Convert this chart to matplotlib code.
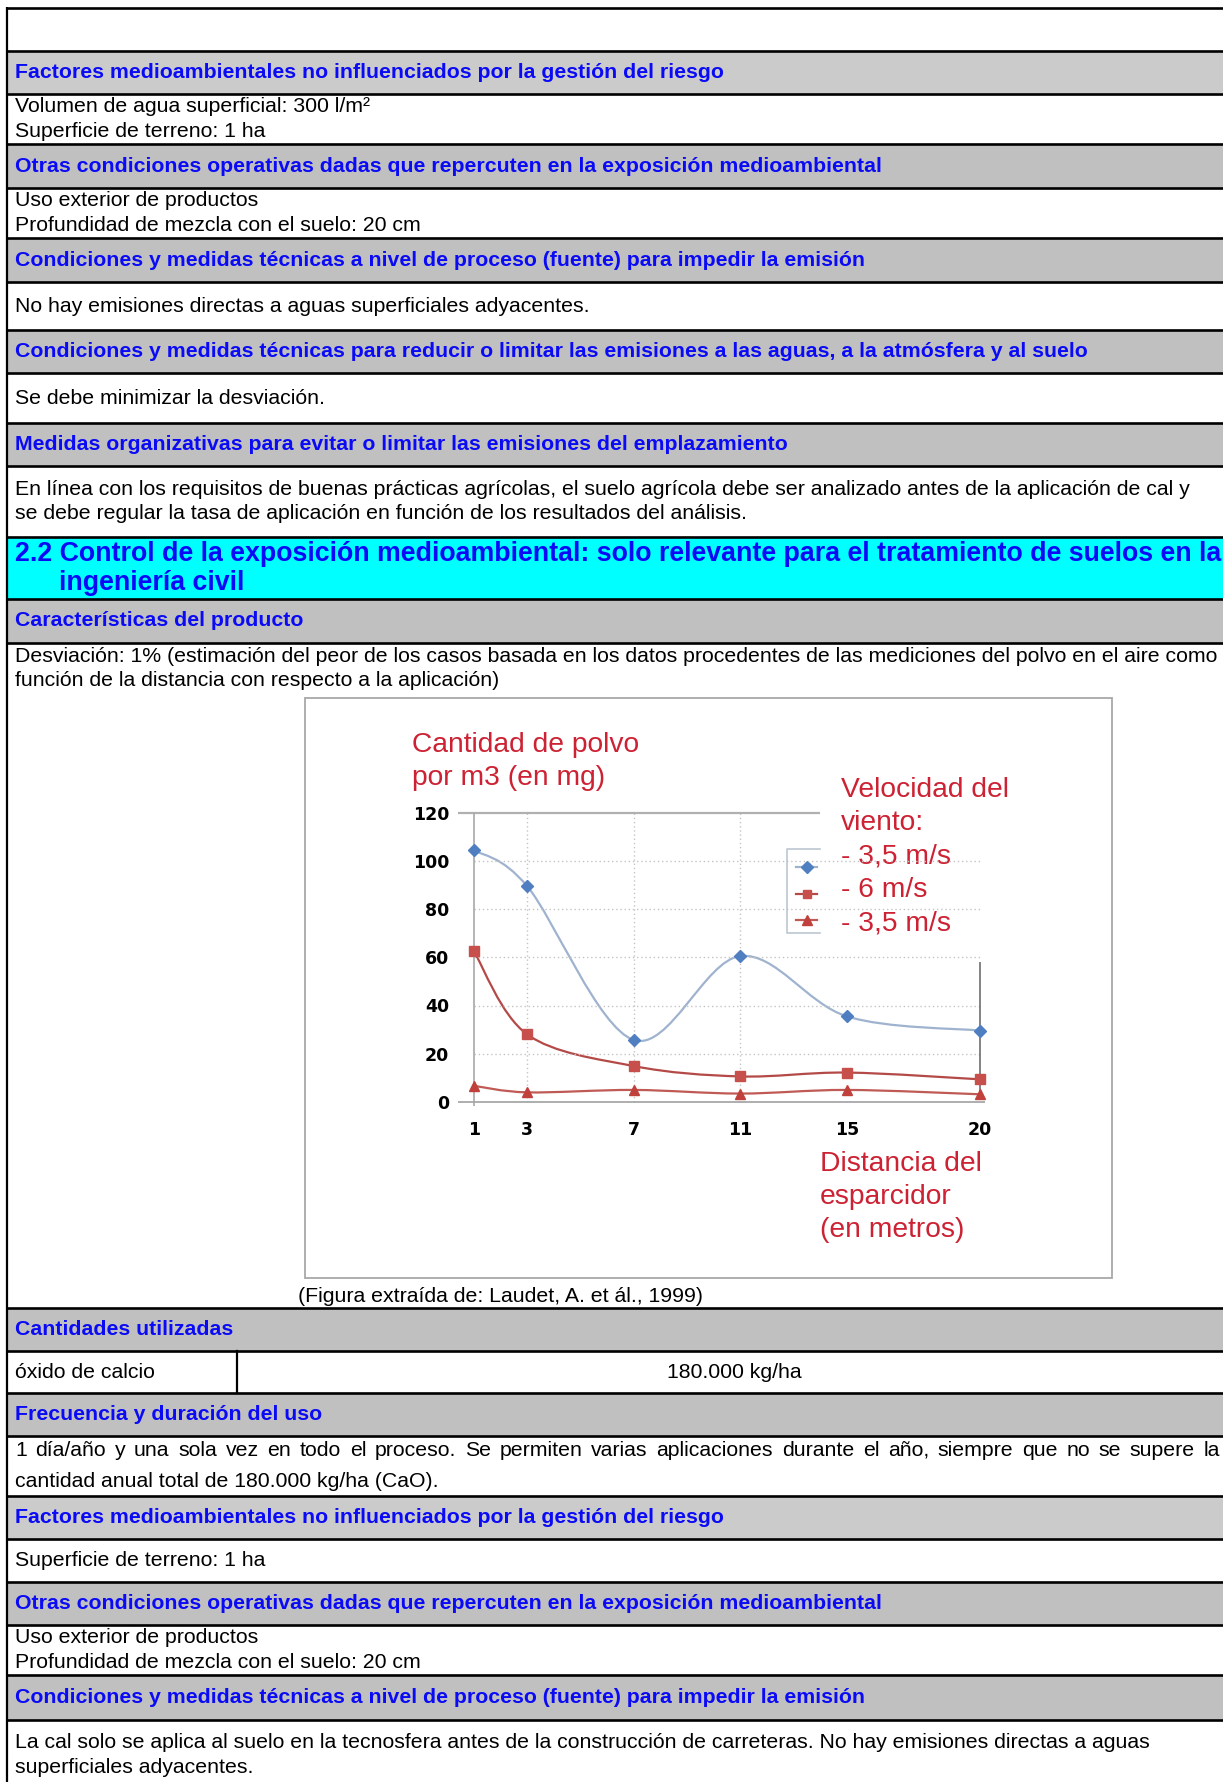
import matplotlib
matplotlib.use('Agg')
import matplotlib.pyplot as plt
from matplotlib.path import Path
from matplotlib.patches import PathPatch, Rectangle
import numpy as np

plt.rcParams['font.family'] = ['Liberation Sans', 'DejaVu Sans']

# --- chart data ---
distance = [1, 3, 7, 11, 15, 20]
dust_blue = [104.4, 89.4, 25.7, 60.5, 35.5, 29.6]
dust_red = [62.4, 28.0, 14.9, 10.6, 12.2, 9.4]
dust_tri = [6.7, 4.0, 5.0, 3.5, 5.0, 3.2]
series_labels = ['- 3,5 m/s', '- 6 m/s', '- 3,5 m/s']
y_ticks = [0, 20, 40, 60, 80, 100, 120]
err_range = [2, 58]
y_title = ['Cantidad de polvo', 'por m3 (en mg)']
legend_title = ['Velocidad del', 'viento:']
x_title = ['Distancia del', 'esparcidor', '(en metros)']

# --- table texts ---
h_factores = 'Factores medioambientales no influenciados por la gestión del riesgo'
h_otras = 'Otras condiciones operativas dadas que repercuten en la exposición medioambiental'
h_impedir = 'Condiciones y medidas técnicas a nivel de proceso (fuente) para impedir la emisión'
h_reducir = ('Condiciones y medidas técnicas para reducir o limitar las emisiones a las aguas, '
             'a la atmósfera y al suelo')
h_medidas = 'Medidas organizativas para evitar o limitar las emisiones del emplazamiento'
h_caract = 'Características del producto'
h_cantidades = 'Cantidades utilizadas'
h_frecuencia = 'Frecuencia y duración del uso'
cyan_lines = ['2.2 Control de la exposición medioambiental: solo relevante para el tratamiento de suelos en la',
              'ingeniería civil']
t_volumen = ['Volumen de agua superficial: 300 l/m²', 'Superficie de terreno: 1 ha']
t_uso = ['Uso exterior de productos', 'Profundidad de mezcla con el suelo: 20 cm']
t_noemis = ['No hay emisiones directas a aguas superficiales adyacentes.']
t_desv = ['Se debe minimizar la desviación.']
t_linea = ['En línea con los requisitos de buenas prácticas agrícolas, el suelo agrícola debe ser '
           'analizado antes de la aplicación de cal y',
           'se debe regular la tasa de aplicación en función de los resultados del análisis.']
t_desviacion = ['Desviación: 1% (estimación del peor de los casos basada en los datos procedentes de las '
                'mediciones del polvo en el aire como',
                'función de la distancia con respecto a la aplicación)']
caption = '(Figura extraída de: Laudet, A. et ál., 1999)'
sustancia = 'óxido de calcio'
cantidad = '180.000 kg/ha'
t_frec = ['1 día/año y una sola vez en todo el proceso. Se permiten varias aplicaciones durante el año, '
          'siempre que no se supere la',
          'cantidad anual total de 180.000 kg/ha (CaO).']
t_superficie = ['Superficie de terreno: 1 ha']
t_cal = ['La cal solo se aplica al suelo en la tecnosfera antes de la construcción de carreteras. '
         'No hay emisiones directas a aguas',
         'superficiales adyacentes.']

W, H = 1223, 1782
FS = 15.35
BLUE = '#0a0af5'
RED = '#cc2233'

fig = plt.figure(figsize=(W / 100, H / 100), dpi=100)
ax = fig.add_axes([0, 0, 1, 1])
ax.set_xlim(0, W)
ax.set_ylim(H, 0)
ax.axis('off')

# row layout: (kind, top, bottom, content)
rows = [
    ('blank', 8, 51, None),
    ('head', 51, 94, h_factores),
    ('body', 94, 144, t_volumen),
    ('head', 144, 188, h_otras),
    ('body', 188, 238, t_uso),
    ('head', 238, 282, h_impedir),
    ('body', 282, 330, t_noemis),
    ('head', 330, 373, h_reducir),
    ('body', 373, 423, t_desv),
    ('head', 423, 466, h_medidas),
    ('body', 466, 537, t_linea),
    ('cyan', 537, 599, cyan_lines),
    ('head', 599, 643, h_caract),
    ('chart', 643, 1308, None),
    ('head', 1308, 1351, h_cantidades),
    ('split', 1351, 1393, None),
    ('head', 1393, 1436, h_frecuencia),
    ('just', 1436, 1496, t_frec),
    ('head', 1496, 1539, h_factores),
    ('body', 1539, 1582, t_superficie),
    ('head', 1582, 1625, h_otras),
    ('body', 1625, 1675, t_uso),
    ('head', 1675, 1720, h_impedir),
    ('body', 1720, 1790, t_cal),
]

renderer = fig.canvas.get_renderer()


def justified(text, x0, x1, y):
    words = text.split()
    objs = [ax.text(0, y, w, fontsize=FS, va='center', ha='left') for w in words]
    widths = [o.get_window_extent(renderer).width for o in objs]
    gap = (x1 - x0 - sum(widths)) / (len(words) - 1)
    x = x0
    for o, w in zip(objs, widths):
        o.set_x(x)
        x += w + gap


for kind, top, bot, content in rows:
    mid = (top + bot) / 2
    if kind == 'head':
        grey = '#cbcbcb' if content == h_factores else '#c0c0c0'
        ax.add_patch(Rectangle((7, top), W, bot - top, facecolor=grey, edgecolor='none'))
        ax.text(15, mid, content, fontsize=FS, fontweight='bold', color=BLUE, va='center')
    elif kind == 'cyan':
        ax.add_patch(Rectangle((7, top), W, bot - top, facecolor='#00ffff', edgecolor='none'))
        ax.text(15, mid - 14, content[0], fontsize=19.25, fontweight='bold', color=BLUE, va='center')
        ax.text(59, mid + 15, content[1], fontsize=19.25, fontweight='bold', color=BLUE, va='center')
    elif kind == 'body':
        n = len(content)
        for i, line in enumerate(content):
            ax.text(15, mid + (i - (n - 1) / 2) * 24.5, line, fontsize=FS, va='center')
    elif kind == 'just':
        justified(content[0], 15, 1220, mid - 15.5)
        ax.text(15, mid + 15.5, content[1], fontsize=FS, va='center')
    elif kind == 'split':
        ax.text(15, mid, sustancia, fontsize=FS, va='center')
        ax.text(734, mid, cantidad, fontsize=FS, va='center', ha='center')
        ax.plot([236.5, 236.5], [top, bot], color='black', lw=1.6)
    elif kind == 'chart':
        ax.text(15, top + 14, t_desviacion[0], fontsize=FS, va='center')
        ax.text(15, top + 38, t_desviacion[1], fontsize=FS, va='center')
        ax.text(298, 1296, caption, fontsize=FS, va='center')

# table rules
for kind, top, bot, content in rows:
    ax.plot([6, W], [top, top], color='black', lw=1.9, solid_capstyle='butt')
ax.plot([7, 7], [7, H], color='black', lw=1.6, solid_capstyle='butt')

# embedded figure frame
ax.add_patch(Rectangle((305, 698), 807, 580, facecolor='white', edgecolor='#a8a8a8', lw=1.3))

# red annotations of the embedded figure (pixel positions)
for i, line in enumerate(y_title):
    ax.text(412, 745 + i * 33, line, fontsize=20.3, color=RED, va='center')
for i, line in enumerate(legend_title + series_labels):
    ax.text(841, 790 + i * 33.3, line, fontsize=20.3, color=RED, va='center')
for i, line in enumerate(x_title):
    ax.text(820, 1164 + i * 33, line, fontsize=20.3, color=RED, va='center')

# --- chart axes ---
x_lo, x_hi, y_lo, y_hi = -1, 23, -10, 130
px_x = (980 - 474) / (20 - 1)
px_y = (1102 - 812.5) / 120
left = 474 - (1 - x_lo) * px_x
right = 980 + (x_hi - 20) * px_x
bottom = 1102 + (0 - y_lo) * px_y
top = 812.5 - (y_hi - 120) * px_y
ax2 = fig.add_axes([left / W, 1 - bottom / H, (right - left) / W, (bottom - top) / H])
ax2.set_facecolor('none')
ax2.set_xlim(x_lo, x_hi)
ax2.set_ylim(y_lo, y_hi)
for s in ax2.spines.values():
    s.set_visible(False)
ax2.spines['left'].set_position(('data', 1))
ax2.spines['bottom'].set_position(('data', 0))
ax2.set_xticks(distance)
ax2.set_yticks(y_ticks)
ax2.tick_params(length=0)
ax2.tick_params(axis='y', pad=18)
ax2.tick_params(axis='x', pad=14)
for lab in ax2.get_xticklabels() + ax2.get_yticklabels():
    lab.set_family('DejaVu Sans')
    lab.set_fontweight('bold')
    lab.set_fontsize(12.5)

# grid
ax2.hlines(y_ticks[1:-1], 1, 20, colors='#c4c4c4', linestyles=(0, (1, 2)), lw=1)
ax2.vlines([3, 7, 11], 0, 120, colors='#c4c4c4', linestyles=(0, (1, 2)), lw=1)
ax2.hlines(120, 0.4, 14, colors='#b0b0b0', lw=1.6)
ax2.hlines(0, 0.4, 20.2, colors='#a8a8a8', lw=1.3)
ax2.vlines(1, -1.5, 120, colors='#a8a8a8', lw=1.2)
ax2.vlines(20, err_range[0], err_range[1], colors='#6e6e6e', lw=1.2)


def smooth_path(xs, ys):
    pts = np.column_stack([xs, ys]).astype(float)
    ext = np.vstack([pts[0], pts, pts[-1]])
    verts = [pts[0]]
    codes = [Path.MOVETO]
    for i in range(len(pts) - 1):
        p0, p1, p2, p3 = ext[i], ext[i + 1], ext[i + 2], ext[i + 3]
        verts += [p1 + (p2 - p0) / 6, p2 - (p3 - p1) / 6, p2]
        codes += [Path.CURVE4] * 3
    return Path(verts, codes)


styles = [
    (dust_blue, '#9fb3cf', '#4f7fc0', 'D', 6.5),
    (dust_red, '#b44a48', '#c8504c', 's', 6.5),
    (dust_tri, '#c05a55', '#c0403c', '^', 7.5),
]
for vals, lc, mc, mk, ms in styles:
    ax2.add_patch(PathPatch(smooth_path(distance, vals), fill=False, edgecolor=lc, lw=1.6))
    ax2.plot(distance, vals, linestyle='none', marker=mk, ms=ms, color=mc, mec=mc)

# legend keys (pixel positions in main axes)
for i, (vals, lc, mc, mk, ms) in enumerate(styles):
    y = [867, 894, 920][i]
    ax.plot([796, 817], [y, y], color=lc, lw=1.6)
    ax.plot([806.5], [y], marker=mk, ms=ms - 0.5, color=mc, linestyle='none')
ax.plot([820, 787, 787, 820], [849, 849, 933, 933], color='#bcc6d2', lw=1.2)

fig.savefig('out.png', dpi=100)
